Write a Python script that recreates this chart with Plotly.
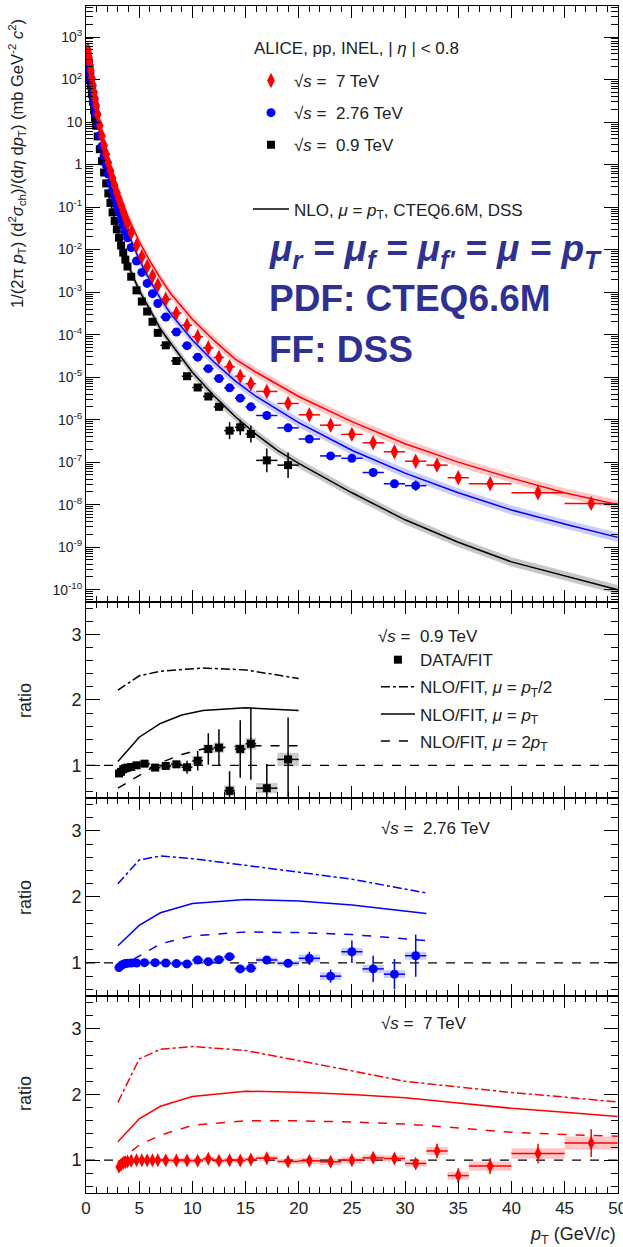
import plotly.graph_objects as go

# ---------------- main panel: spectra ----------------
pt_low = [0.175, 0.225, 0.275, 0.325, 0.375, 0.45, 0.55, 0.65, 0.75, 0.85, 0.95,
          1.1, 1.3, 1.5, 1.7, 1.9, 2.1, 2.3, 2.5, 2.7, 2.9, 3.1, 3.3, 3.5, 3.7, 3.9,
          4.25, 4.75, 5.25, 5.75, 6.25, 6.75, 7.5, 8.5, 9.5, 10.5, 11.5, 12.5, 13.5,
          14.5, 15.5, 17, 19]
hw_low = [0.025] * 5 + [0.05] * 6 + [0.1] * 15 + [0.25] * 6 + [0.5] * 9 + [1, 1]
pt_hi_276 = [21, 23, 25, 27, 29, 31]
hw_hi_276 = [1, 1, 1, 1, 1, 1]
pt_hi_7 = [21, 23, 25, 27, 29, 31, 33, 35, 38, 42.5, 47.5]
hw_hi_7 = [1, 1, 1, 1, 1, 1, 1, 1, 2, 2.5, 2.5]

spec_09 = [260, 210, 165, 130, 100, 72, 46, 30, 19, 12.5, 8.2,
           4.6, 2.3, 1.2, 0.65, 0.36, 0.21, 0.125, 0.075, 0.047, 0.030,
           0.019, 0.0125, 0.0085, 0.0058, 0.0040, 0.0023, 0.0011, 6.0e-4, 3.5e-4,
           2.0e-4, 1.1e-4, 5.6e-5, 2.4e-5, 1.05e-5, 5.7e-6, 3.5e-6, 2.0e-6, 5.5e-7,
           6.6e-7, 4.6e-7, 1.1e-7, 8.5e-8]
spec_276 = [330, 270, 220, 178, 142, 105, 70, 48, 32, 22, 15.5,
            9.0, 4.8, 2.7, 1.6, 0.97, 0.60, 0.38, 0.25, 0.165, 0.11,
            0.075, 0.052, 0.037, 0.026, 0.019, 0.0112, 0.0054, 0.0029, 0.0016,
            9.2e-4, 5.4e-4, 2.6e-4, 1.15e-4, 5.5e-5, 2.95e-5, 1.58e-5, 9.3e-6, 5.6e-6,
            3.2e-6, 2.0e-6, 1.25e-6, 6.4e-7,
            3.5e-7, 1.4e-7, 1.23e-7, 5.7e-8, 3.1e-8, 2.8e-8]
spec_7 = [500, 410, 330, 270, 215, 160, 108, 74, 51, 36, 25,
          15, 8.2, 4.7, 2.8, 1.75, 1.1, 0.72, 0.48, 0.32, 0.22,
          0.155, 0.11, 0.078, 0.056, 0.041, 0.025, 0.0125, 0.0068, 0.0040,
          0.0024, 0.00145, 6.8e-4, 3.2e-4, 1.66e-4, 8.9e-5, 4.9e-5, 2.9e-5, 1.75e-5,
          1.05e-5, 7.0e-6, 4.6e-6, 2.4e-6,
          1.3e-6, 7.4e-7, 4.5e-7, 2.85e-7, 1.75e-7, 1.05e-7, 8.5e-8, 4.3e-8, 3.1e-8,
          1.9e-8, 1.07e-8]
# vertical error half-size in decades
errdec_09 = [0.02] * 35 + [0.03, 0.06, 0.08, 0.2, 0.18, 0.2, 0.28, 0.3]
errdec_276 = [0.02] * 43 + [0.05, 0.08, 0.08, 0.1, 0.1, 0.12]
errdec_7 = [0.02] * 43 + [0.02, 0.03, 0.03, 0.04, 0.04, 0.05, 0.05, 0.06, 0.06, 0.07, 0.09]

# NLO (mu = pT) curves
nlo_pt = [2, 3, 4, 5, 6, 7, 8, 10, 12, 14, 16, 18, 20, 25, 30, 35, 40, 45, 50]
nlo_7 = [1.5, 0.24, 0.055, 0.0155, 5.4e-3, 2.1e-3, 9.0e-4, 2.3e-4, 7.4e-5, 2.7e-5,
         1.3e-5, 6.8e-6, 3.5e-6, 9.0e-7, 2.7e-7, 1.0e-7, 4.2e-8, 1.9e-8, 1.0e-8]
nlo_276 = [0.8, 0.113, 0.023, 5.8e-3, 1.9e-3, 7.0e-4, 3.0e-4, 7.5e-5, 2.3e-5, 8.3e-6,
           3.5e-6, 1.7e-6, 8.5e-7, 1.9e-7, 5.5e-8, 1.9e-8, 7.5e-9, 3.5e-9, 1.7e-9]
nlo_09 = [0.25, 0.025, 0.0041, 1.1e-3, 3.9e-4, 1.35e-4, 6.1e-5, 1.3e-5, 3.7e-6, 1.2e-6,
          4.5e-7, 1.9e-7, 9.3e-8, 1.9e-8, 4.4e-9, 1.3e-9, 4.5e-10, 2.1e-10, 1.0e-10]
band_up, band_dn = 1.28, 0.78

# ---------------- ratio panels ----------------
r09_pt = [3.1, 3.3, 3.5, 3.7, 3.9, 4.25, 4.75, 5.5, 6.5, 7.5, 8.5, 9.5, 10.5, 11.5,
          12.5, 13.5, 14.5, 15.5, 17, 19]
r09_hw = [0.1] * 5 + [0.25, 0.25] + [0.5] * 11 + [1, 1]
r09_val = [0.875, 0.9, 0.94, 0.955, 0.965, 0.975, 1.0, 1.025, 0.965, 0.99, 1.015, 0.97,
           1.07, 1.25, 1.27, 0.61, 1.25, 1.33, 0.65, 1.09]
r09_stat = [0.02, 0.02, 0.02, 0.02, 0.02, 0.02, 0.03, 0.03, 0.03, 0.04, 0.05, 0.1,
            0.15, 0.24, 0.28, 0.3, 0.44, 0.55, 0.37, 0.64]
r09_sys = [0.05] * 12 + [0.07, 0.07, 0.08, 0.08, 0.08, 0.09, 0.08, 0.1]

r276_pt = r09_pt + [21, 23, 25, 27, 29, 31]
r276_hw = r09_hw + [1, 1, 1, 1, 1, 1]
r276_val = [0.93, 0.96, 0.98, 0.99, 0.995, 1.0, 1.0, 1.005, 1.005, 1.0, 0.99, 0.985,
            1.045, 1.02, 1.05, 1.095, 0.91, 0.92, 1.045, 0.995,
            1.07, 0.80, 1.17, 0.91, 0.83, 1.11]
r276_stat = [0.01] * 7 + [0.015, 0.015, 0.02, 0.02, 0.02, 0.03, 0.03, 0.04, 0.04, 0.04,
                          0.05, 0.05, 0.05] + [0.1, 0.1, 0.17, 0.2, 0.23, 0.32]
r276_sys = [0.04] * 20 + [0.06] * 6

r7_pt = [3.1, 3.3, 3.5, 3.7, 3.9, 4.25, 4.75, 5.25, 5.75, 6.25, 6.75, 7.5, 8.5, 9.5,
         10.5, 11.5, 12.5, 13.5, 14.5, 15.5, 17, 19, 21, 23, 25, 27, 29, 31, 33, 35,
         38, 42.5, 47.5]
r7_hw = [0.1] * 5 + [0.25] * 6 + [0.5] * 9 + [1] * 10 + [2, 2.5, 2.5]
r7_val = [0.9, 0.93, 0.955, 0.97, 0.98, 0.99, 1.0, 1.0, 1.0, 1.0, 1.0,
          1.0, 0.995, 0.995, 0.99, 1.02, 0.99, 1.0, 0.995, 1.01, 1.03, 0.98,
          0.99, 0.975, 1.0, 1.035, 1.025, 0.95, 1.14, 0.765, 0.91, 1.1, 1.26]
r7_stat = [0.01] * 20 + [0.02, 0.025, 0.03, 0.035, 0.04, 0.05, 0.06, 0.08, 0.11,
                         0.11, 0.12, 0.15, 0.21]
r7_sys = [0.04] * 22 + [0.05] * 6 + [0.06, 0.06, 0.07, 0.08, 0.1]

# NLO / FIT curves
rn09_pt = [3, 5, 7, 9, 11, 15, 20]
rn09_half = [2.15, 2.37, 2.44, 2.47, 2.49, 2.46, 2.33]
rn09_one = [1.06, 1.43, 1.64, 1.77, 1.84, 1.88, 1.84]
rn09_two = [0.65, 0.84, 1.04, 1.165, 1.25, 1.30, 1.30]

rn276_pt = [3, 5, 7, 10, 15, 20, 25, 32]
rn276_half = [2.2, 2.56, 2.62, 2.58, 2.48, 2.38, 2.27, 2.06]
rn276_one = [1.26, 1.57, 1.76, 1.9, 1.96, 1.94, 1.88, 1.75]
rn276_two = [0.92, 1.11, 1.29, 1.41, 1.47, 1.46, 1.43, 1.34]

rn7_pt = [3, 5, 7, 10, 15, 20, 25, 30, 35, 40, 45, 50]
rn7_half = [1.88, 2.54, 2.69, 2.73, 2.67, 2.52, 2.36, 2.2, 2.11, 2.03, 1.96, 1.885]
rn7_one = [1.28, 1.63, 1.82, 1.97, 2.05, 2.035, 2.0, 1.95, 1.87, 1.79, 1.73, 1.665]
rn7_two = [0.97, 1.23, 1.38, 1.53, 1.6, 1.6, 1.58, 1.55, 1.49, 1.425, 1.39, 1.365]

y_ticks_main = [1e3, 1e2, 1e1, 1, 1e-1, 1e-2, 1e-3, 1e-4, 1e-5, 1e-6, 1e-7, 1e-8, 1e-9, 1e-10]
y_ticktext_main = ["10<sup>3</sup>", "10<sup>2</sup>", "10", "1", "10<sup>-1</sup>",
                   "10<sup>-2</sup>", "10<sup>-3</sup>", "10<sup>-4</sup>", "10<sup>-5</sup>",
                   "10<sup>-6</sup>", "10<sup>-7</sup>", "10<sup>-8</sup>", "10<sup>-9</sup>",
                   "10<sup>-10</sup>"]
x_ticks = [0, 5, 10, 15, 20, 25, 30, 35, 40, 45, 50]

FONT = "Liberation Sans, Arial, Helvetica, sans-serif"
RED, BLUE, BLACK = "#ff0000", "#0000ff", "#000000"
TXT = "#222222"

fig = go.Figure()

# ---- main panel bands + lines ----
for vals, col, fc in [(nlo_09, BLACK, "rgba(0,0,0,0.22)"),
                      (nlo_276, BLUE, "rgba(0,0,255,0.2)"),
                      (nlo_7, RED, "rgba(255,0,0,0.22)")]:
    fig.add_trace(go.Scatter(x=nlo_pt, y=[v * band_up for v in vals], mode="lines",
                             line=dict(width=0), showlegend=False, hoverinfo="skip",
                             xaxis="x", yaxis="y"))
    fig.add_trace(go.Scatter(x=nlo_pt, y=[v * band_dn for v in vals], mode="lines",
                             line=dict(width=0), fill="tonexty", fillcolor=fc,
                             showlegend=False, hoverinfo="skip", xaxis="x", yaxis="y"))
for vals, col, show in [(nlo_09, BLACK, True), (nlo_276, BLUE, False), (nlo_7, RED, False)]:
    fig.add_trace(go.Scatter(x=nlo_pt, y=vals, mode="lines", line=dict(color=col, width=1.5),
                             name="NLO, <i>μ</i> = <i>p</i><sub>T</sub>, CTEQ6.6M, DSS",
                             showlegend=show, legendgroup="nlo", legendrank=5,
                             xaxis="x", yaxis="y"))


def errs(vals, decs):
    up = [v * (10 ** d - 1) for v, d in zip(vals, decs)]
    dn = [v * (1 - 10 ** (-d)) for v, d in zip(vals, decs)]
    return up, dn


series = [
    (pt_low, hw_low, spec_09, errdec_09, BLACK, "square", 8, "√<i>s</i> =  0.9 TeV", 3),
    (pt_low + pt_hi_276, hw_low + hw_hi_276, spec_276, errdec_276, BLUE, "circle", 9,
     "√<i>s</i> =  2.76 TeV", 2),
    (pt_low + pt_hi_7, hw_low + hw_hi_7, spec_7, errdec_7, RED, "diamond-tall", 11,
     "√<i>s</i> =  7 TeV", 1),
]
for x, hw, y, ed, col, sym, sz, nm, rank in series:
    up, dn = errs(y, ed)
    fig.add_trace(go.Scatter(
        x=x, y=y, mode="markers", name=nm, legendgroup=nm, legendrank=rank,
        marker=dict(color=col, symbol=sym, size=sz, line=dict(width=0)),
        error_x=dict(type="data", array=hw, color=col, thickness=1.5, width=0),
        error_y=dict(type="data", array=up, arrayminus=dn, color=col, thickness=1.5, width=0),
        xaxis="x", yaxis="y"))
# spacer entry in the legend (empty row)
fig.add_trace(go.Scatter(x=[None], y=[None], mode="markers", name=" ",
                         marker=dict(color="rgba(0,0,0,0)", size=1,
                                     line=dict(width=0, color="rgba(0,0,0,0)")),
                         legendgroup="gap", legendrank=4, xaxis="x", yaxis="y"))

# ---- ratio panels ----
panels = [
    ("x2", "y2", r09_pt, r09_hw, r09_val, r09_stat, r09_sys, BLACK, "rgba(0,0,0,0.2)",
     "square", 8, rn09_pt, rn09_half, rn09_one, rn09_two, True),
    ("x3", "y3", r276_pt, r276_hw, r276_val, r276_stat, r276_sys, BLUE, "rgba(0,0,255,0.2)",
     "circle", 9, rn276_pt, rn276_half, rn276_one, rn276_two, False),
    ("x4", "y4", r7_pt, r7_hw, r7_val, r7_stat, r7_sys, RED, "rgba(255,0,0,0.22)",
     "diamond-tall", 10, rn7_pt, rn7_half, rn7_one, rn7_two, False),
]
for (xa, ya, pt, hw, val, st, sy, col, boxc, sym, sz, npt, nh, n1, n2, leg) in panels:
    fig.add_trace(go.Bar(x=pt, y=[2 * s for s in sy], base=[v - s for v, s in zip(val, sy)],
                         width=[2 * h for h in hw], marker=dict(color=boxc, line=dict(width=0)),
                         showlegend=False, hoverinfo="skip", xaxis=xa, yaxis=ya))
    for yy, dash, nm, rk in [(nh, "dashdot", "NLO/FIT, <i>μ</i> = <i>p</i><sub>T</sub>/2", 2),
                             (n1, "solid", "NLO/FIT, <i>μ</i> = <i>p</i><sub>T</sub>", 3),
                             (n2, "dash", "NLO/FIT, <i>μ</i> = 2<i>p</i><sub>T</sub>", 4)]:
        fig.add_trace(go.Scatter(x=npt, y=yy, mode="lines",
                                 line=dict(color=col, width=1.5, dash=dash),
                                 name=nm, showlegend=leg, legend="legend2",
                                 legendgroup=nm, legendrank=rk, xaxis=xa, yaxis=ya))
    fig.add_trace(go.Scatter(
        x=pt, y=val, mode="markers", name="DATA/FIT", showlegend=leg, legend="legend2",
        legendgroup="data", legendrank=1,
        marker=dict(color=col, symbol=sym, size=sz, line=dict(width=0)),
        error_x=dict(type="data", array=hw, color=col, thickness=1.5, width=0),
        error_y=dict(type="data", array=st, color=col, thickness=1.5, width=0),
        xaxis=xa, yaxis=ya))

# ---- axes ----
common = dict(showline=True, linecolor="black", linewidth=1, mirror="ticks",
              ticks="inside", tickcolor="black", tickwidth=1, showgrid=False,
              zeroline=False, automargin=False)
xcommon = dict(range=[0, 50.02], tickmode="array", tickvals=x_ticks, ticklen=12,
               minor=dict(dtick=1, tick0=0, ticklen=6, ticks="inside", tickcolor="black",
                          showgrid=False), **common)

dom_main = [0.4979, 1.0]
dom_r1 = [0.3328, 0.4979]
dom_r2 = [0.166, 0.3328]
dom_r3 = [0.0, 0.166]

minor_log = [m * 10.0 ** e for e in range(-11, 4) for m in range(2, 10)]

ycommon_r = dict(range=[0.5, 3.5], tick0=0, dtick=1, ticklen=14,
                 tickfont=dict(size=18, color=TXT, family=FONT),
                 minor=dict(dtick=0.2, tick0=0, ticklen=7, ticks="inside",
                            tickcolor="black", showgrid=False), **common)

fig.update_layout(
    width=623, height=1247,
    margin=dict(l=86, r=5, t=6, b=54, autoexpand=False),
    paper_bgcolor="white", plot_bgcolor="white",
    font=dict(family=FONT, color=TXT, size=16),
    barmode="overlay",
    xaxis=dict(domain=[0, 1], anchor="y", showticklabels=False, **xcommon),
    xaxis2=dict(domain=[0, 1], anchor="y2", matches="x", showticklabels=False, **xcommon),
    xaxis3=dict(domain=[0, 1], anchor="y3", matches="x", showticklabels=False, **xcommon),
    xaxis4=dict(domain=[0, 1], anchor="y4", matches="x", showticklabels=True,
                ticklabeloverflow="allow",
                tickfont=dict(size=17, color=TXT, family=FONT), **xcommon),
    yaxis=dict(domain=dom_main, anchor="x", type="log", range=[-10.29, 3.73],
               tickmode="array", tickvals=y_ticks_main, ticktext=y_ticktext_main,
               ticklen=14, tickfont=dict(size=14, color=TXT, family=FONT),
               minor=dict(tickmode="array", tickvals=minor_log, ticklen=7, ticks="inside",
                          tickcolor="black", showgrid=False), **common),
    yaxis2=dict(domain=dom_r1, anchor="x2", **ycommon_r),
    yaxis3=dict(domain=dom_r2, anchor="x3", **ycommon_r),
    yaxis4=dict(domain=dom_r3, anchor="x4", **ycommon_r),
    legend=dict(x=0.3045, y=(1193 - 63) / 1187, xanchor="left", yanchor="top",
                bgcolor="rgba(0,0,0,0)", font=dict(size=17, color=TXT, family=FONT),
                traceorder="grouped", tracegroupgap=7, itemwidth=36),
    legend2=dict(x=0.545, y=0.4827, xanchor="left", yanchor="top",
                 bgcolor="rgba(0,0,0,0)", font=dict(size=17, color=TXT, family=FONT),
                 title=dict(text="√<i>s</i> =  0.9 TeV",
                            font=dict(size=17, color=TXT, family=FONT)),
                 traceorder="grouped", tracegroupgap=2, itemwidth=34),
    showlegend=True,
)

# ratio = 1 reference lines
for xa, ya in [("x2", "y2"), ("x3", "y3"), ("x4", "y4")]:
    fig.add_shape(type="line", xref=f"{xa} domain", yref=ya, x0=0, x1=1, y0=1, y1=1,
                  line=dict(color="black", width=1.2, dash="dash"), layer="below")

ann = []
# legend header
ann.append(dict(text="ALICE, pp, INEL, | <i>η</i> | &lt; 0.8", x=(252 - 86) / 532,
                y=(1193 - 48) / 1187, xref="paper", yref="paper", xanchor="left",
                yanchor="middle", showarrow=False,
                font=dict(size=17, color=TXT, family=FONT)))
# big blue annotation
BLUE_TXT = "#2f3192"
for txt, yp in [("<b><i>μ<sub>r</sub> = μ<sub>f</sub> = μ<sub>f'</sub> = μ = p<sub>T</sub></i></b>", 0.7935),
                ("<b>PDF: CTEQ6.6M</b>", 0.754),
                ("<b>FF: DSS</b>", 0.7102)]:
    ann.append(dict(text=txt, x=0.34, y=yp, xref="paper", yref="paper", xanchor="left",
                    yanchor="middle", showarrow=False,
                    font=dict(size=37, color=BLUE_TXT, family=FONT)))
# panel titles
ann.append(dict(text="√<i>s</i> =  2.76 TeV", x=0.55, y=(1193 - 828) / 1187, xref="paper",
                yref="paper", xanchor="left", yanchor="middle", showarrow=False,
                font=dict(size=17, color=TXT, family=FONT)))
ann.append(dict(text="√<i>s</i> =  7 TeV", x=0.55, y=(1193 - 1023) / 1187, xref="paper",
                yref="paper", xanchor="left", yanchor="middle", showarrow=False,
                font=dict(size=17, color=TXT, family=FONT)))
# y titles
for yc in [0.4153, 0.2494, 0.0842]:
    ann.append(dict(text="ratio", x=-0.1147, y=yc, xref="paper", yref="paper",
                    xanchor="center", yanchor="middle", textangle=-90, showarrow=False,
                    font=dict(size=18, color=TXT, family=FONT)))
ann.append(dict(text="1/(2π <i>p</i><sub>T</sub>) (d<sup>2</sup><i>σ</i><sub>ch</sub>)/(d<i>η</i> d<i>p</i><sub>T</sub>) (mb GeV<sup>-2</sup> <i>c</i><sup>2</sup>)",
                x=-0.1297, y=(1193 - 163) / 1187, xref="paper", yref="paper", xanchor="center",
                yanchor="middle", textangle=-90, showarrow=False,
                font=dict(size=16.5, color=TXT, family=FONT)))
ann.append(dict(text="<i>p</i><sub>T</sub> (GeV/<i>c</i>)", x=1.0, y=-0.0354, xref="paper",
                yref="paper", xanchor="right", yanchor="middle", showarrow=False,
                font=dict(size=18, color=TXT, family=FONT)))
fig.update_layout(annotations=ann)

fig.write_html("out.html")
